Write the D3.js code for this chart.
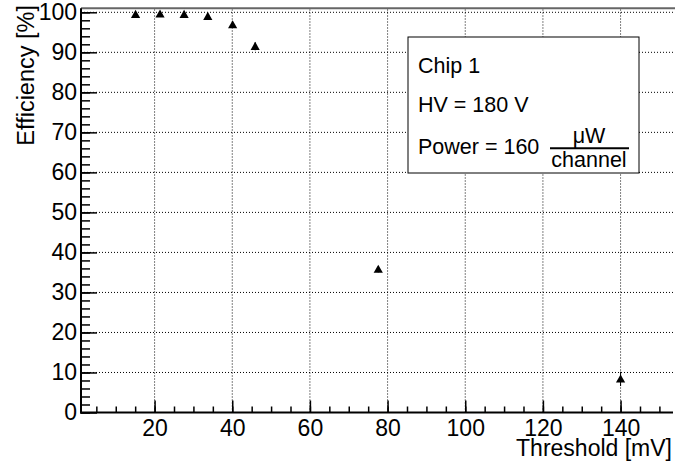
<!DOCTYPE html>
<html>
<head>
<meta charset="utf-8">
<script src="https://cdn.jsdelivr.net/npm/d3@7"></script>
<style>
  body { margin: 0; background: #fff; }
  svg text { font-family: "Liberation Sans", Arial, Helvetica, sans-serif; fill: #000; }
</style>
</head>
<body>
<div id="chart"></div>
<script>
// data
var thresholds = [15.1, 21.4, 27.6, 33.7, 40.1, 45.9, 77.6, 140.0];
var efficiency = [99.5, 99.6, 99.5, 99.0, 96.9, 91.5, 35.8, 8.4];
var errors     = [0.3, 0.3, 0.3, 0.4, 0.7, 1.0, 0.8, 1.8];
var xTicks = [20, 40, 60, 80, 100, 120, 140];
var yTicks = [0, 10, 20, 30, 40, 50, 60, 70, 80, 90, 100];
var legendLines = ["Chip 1", "HV = 180 V", "Power = 160"];
var fracTop = "\u03bcW", fracBottom = "channel";

var width = 675, height = 466;
var plotL = 81, plotR = 673, plotT = 8.3, plotB = 412.5;

var data = thresholds.map(function(t, i) { return {x: t, y: efficiency[i], e: errors[i]}; });

var x = d3.scaleLinear().domain([1.05, 153.5]).range([plotL, plotR]);
var y = d3.scaleLinear().domain([0, 101]).range([plotB, plotT]);

var svg = d3.select("#chart").append("svg")
    .attr("width", width)
    .attr("height", height);

// grid (dotted)
svg.append("g").selectAll("line")
    .data(xTicks).enter().append("line")
    .attr("x1", d => x(d)).attr("x2", d => x(d))
    .attr("y1", plotB).attr("y2", plotT)
    .attr("stroke", "#000").attr("stroke-width", 1)
    .attr("stroke-dasharray", "1,2");
svg.append("g").selectAll("line")
    .data(yTicks.filter(d => d > 0)).enter().append("line")
    .attr("x1", plotL).attr("x2", plotR)
    .attr("y1", d => y(d)).attr("y2", d => y(d))
    .attr("stroke", "#000").attr("stroke-width", 1)
    .attr("stroke-dasharray", "1,2");

// top frame
svg.append("line")
    .attr("x1", plotL).attr("x2", width).attr("y1", plotT).attr("y2", plotT)
    .attr("stroke", "#666").attr("stroke-width", 2);

// y axis: minor then major
var yMinor = d3.range(0, 101, 2);
svg.append("g")
    .attr("transform", "translate(" + plotL + ",0)")
    .call(d3.axisLeft(y).tickValues(yMinor).tickSizeInner(-9).tickSizeOuter(0).tickFormat(""))
    .call(g => g.select(".domain").remove())
    .selectAll("line").attr("stroke-width", 1.5);
svg.append("g")
    .attr("transform", "translate(" + plotL + ",0)")
    .call(d3.axisLeft(y).tickValues(yTicks).tickSizeInner(-16).tickSizeOuter(0).tickPadding(4))
    .call(g => g.select(".domain").remove())
    .call(g => g.selectAll("line").attr("stroke-width", 1.5))
    .call(g => g.selectAll("text").attr("font-size", 23));

// x axis: minor then major
var xMinor = d3.range(5, 153, 5);
svg.append("g")
    .attr("transform", "translate(0," + plotB + ")")
    .call(d3.axisBottom(x).tickValues(xMinor).tickSizeInner(-6).tickSizeOuter(0).tickFormat(""))
    .call(g => g.select(".domain").remove())
    .selectAll("line").attr("stroke-width", 1.5);
svg.append("g")
    .attr("transform", "translate(0," + plotB + ")")
    .call(d3.axisBottom(x).tickValues(xTicks).tickSizeInner(-12).tickSizeOuter(0).tickPadding(7))
    .call(g => g.select(".domain").remove())
    .call(g => g.selectAll("line").attr("stroke-width", 1.5))
    .call(g => g.selectAll("text").attr("font-size", 23));

// axis lines
svg.append("line").attr("x1", plotL).attr("x2", plotL).attr("y1", plotT).attr("y2", plotB + 1)
    .attr("stroke", "#000").attr("stroke-width", 2);
svg.append("line").attr("x1", plotL - 1).attr("x2", plotR).attr("y1", plotB).attr("y2", plotB)
    .attr("stroke", "#000").attr("stroke-width", 2);

// axis titles
svg.append("text")
    .attr("x", plotR - 1).attr("y", 456)
    .attr("text-anchor", "end").attr("font-size", 23)
    .text("Threshold [mV]");
svg.append("text")
    .attr("transform", "translate(34,5) rotate(-90)")
    .attr("text-anchor", "end").attr("font-size", 23.5)
    .text("Efficiency [%]");

// error bars + markers
svg.append("g").selectAll("line")
    .data(data).enter().append("line")
    .attr("x1", d => x(d.x)).attr("x2", d => x(d.x))
    .attr("y1", d => y(d.y - d.e)).attr("y2", d => y(d.y + d.e))
    .attr("stroke", "#000").attr("stroke-width", 1);
svg.append("g").selectAll("path")
    .data(data).enter().append("path")
    .attr("transform", d => "translate(" + x(d.x) + "," + y(d.y) + ")")
    .attr("d", "M0,-4.5L4.6,3.6L-4.6,3.6Z")
    .attr("fill", "#000");

// legend box
var box = svg.append("g");
box.append("rect")
    .attr("x", 408).attr("y", 37).attr("width", 231).attr("height", 136)
    .attr("fill", "#fff").attr("stroke", "#000").attr("stroke-width", 1);
var baselines = [72.7, 111.7, 154];
box.selectAll("text")
    .data(legendLines).enter().append("text")
    .attr("x", 418).attr("y", (d, i) => baselines[i])
    .attr("font-size", 21.5)
    .text(d => d);
box.append("text").attr("x", 589).attr("y", 143)
    .attr("text-anchor", "middle").attr("font-size", 21.5).text(fracTop);
box.append("line").attr("x1", 550).attr("x2", 629).attr("y1", 148.3).attr("y2", 148.3)
    .attr("stroke", "#000").attr("stroke-width", 2);
box.append("text").attr("x", 589).attr("y", 166.7)
    .attr("text-anchor", "middle").attr("font-size", 21.5).text(fracBottom);
</script>
</body>
</html>
